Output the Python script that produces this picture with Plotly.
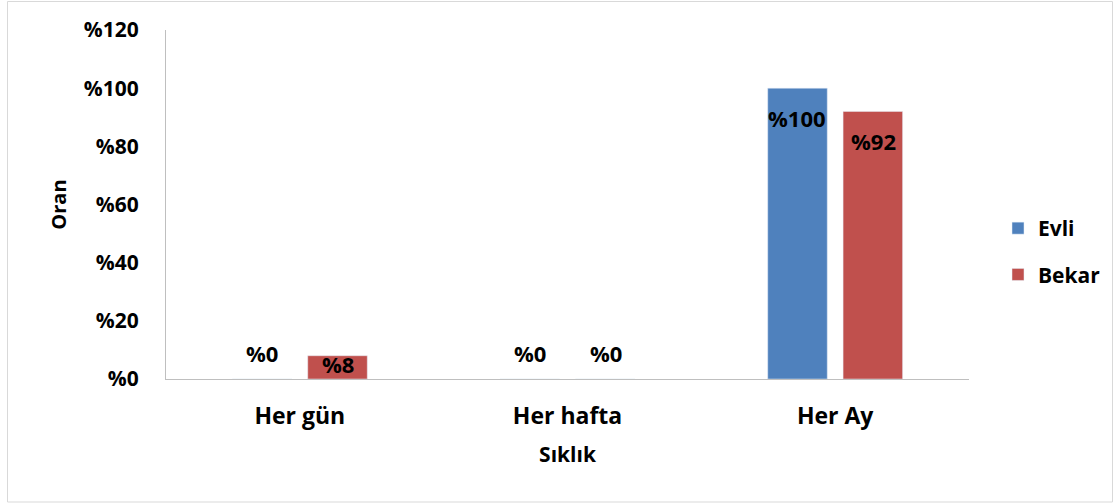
import plotly.graph_objects as go

# Frequency categories and the share (%) of each marital status group
categories = ["Her gün", "Her hafta", "Her Ay"]
evli = [0, 0, 100]
bekar = [8, 0, 92]
y_ticks = [0, 20, 40, 60, 80, 100, 120]

FONT = "Open Sans"
BLUE = "#4F81BD"
RED = "#C0504D"

fig = go.Figure()
fig.add_trace(go.Bar(name="Evli", x=categories, y=evli, marker_color=BLUE, legendgroup="evli"))
fig.add_trace(go.Bar(name="Bekar", x=categories, y=bekar, marker_color=RED, legendgroup="bekar"))


def label_shift(v):
    # value labels sit inside the bar top; near-empty bars get them above the baseline
    if v == 0:
        return 26
    if v < 20:
        return -8
    return -30


annotations = []
for series, dx in ((evli, -38), (bekar, 38)):
    for i, v in enumerate(series):
        annotations.append(dict(
            x=i, y=v, xref="x", yref="y", text=f"%{v}", showarrow=False,
            xshift=dx, yshift=label_shift(v),
            font=dict(family=FONT, size=22, color="black", weight="bold"),
        ))

W, H = 1120, 504
L, R, T, B = 166, 151, 30, 125
pw, ph = W - L - R, H - T - B


def px_to_paper_x(px):
    return (px - L) / pw


def px_to_paper_y(py):
    return (H - B - py) / ph


fig.update_layout(
    width=W, height=H,
    margin=dict(l=L, r=R, t=T, b=B),
    paper_bgcolor="white", plot_bgcolor="white",
    barmode="group", bargap=0.437, bargroupgap=0.21,
    font=dict(family=FONT, size=18, color="black"),
    annotations=annotations,
    showlegend=True,
    legend=dict(
        x=px_to_paper_x(998), y=px_to_paper_y(208), xanchor="left", yanchor="top",
        font=dict(family=FONT, size=21, color="black", weight="bold"),
        tracegroupgap=16, itemwidth=30, bgcolor="rgba(0,0,0,0)",
    ),
    shapes=[dict(
        type="rect", xref="paper", yref="paper",
        x0=px_to_paper_x(7.5), x1=px_to_paper_x(1112.5),
        y0=px_to_paper_y(502), y1=px_to_paper_y(1.5),
        line=dict(color="#D9D9D9", width=1), fillcolor="rgba(0,0,0,0)", layer="below",
    )],
)

fig.update_xaxes(
    showline=True, linecolor="#BFBFBF", linewidth=1, showgrid=False, ticks="",
    ticklabelstandoff=16,
    tickfont=dict(family=FONT, size=23, color="black", weight="bold"),
    title=dict(text="Sıklık", standoff=17,
               font=dict(family=FONT, size=21, color="black", weight="bold")),
)
fig.update_yaxes(
    range=[0, 120], tickvals=y_ticks, ticktext=[f"%{t}" for t in y_ticks],
    showline=True, linecolor="#BFBFBF", linewidth=1, showgrid=False, zeroline=False,
    ticks="", ticklabelstandoff=22,
    tickfont=dict(family=FONT, size=21, color="black", weight="bold"),
    title=dict(text="Oran", standoff=11,
               font=dict(family=FONT, size=20, color="black", weight="bold")),
)

fig.write_html("out.html")
